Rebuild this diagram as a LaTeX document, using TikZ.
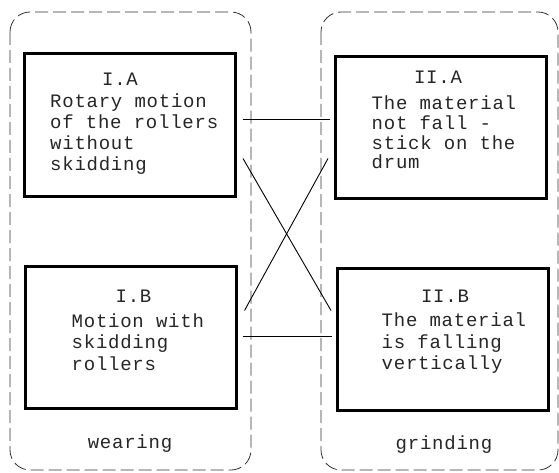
\documentclass[tikz,border=0pt]{standalone}
\usepackage{fontspec}
\newfontfamily\cadfont[LetterSpace=4]{Liberation Mono}
\begin{document}
\begin{tikzpicture}[x=1pt,y=-1pt,
  group/.style={draw=black!80,line width=0.8pt,dash pattern=on 13pt off 5pt,rounded corners=20pt},
  box/.style={draw=black,line width=3pt,minimum width=211pt,minimum height=142pt,inner sep=0pt},
  link/.style={draw=black,line width=0.9pt},
  txt/.style={anchor=base west,inner sep=0pt,text=black!85,font=\cadfont\fontsize{19}{20}\selectfont},
  ttl/.style={anchor=base,inner sep=0pt,text=black!85,font=\cadfont\fontsize{19}{20}\selectfont}]
\useasboundingbox (0,0) rectangle (559,473);
% containers
\draw[group] (10,12) rectangle (251,470);
\draw[group] (321,12) rectangle (558,470);
% boxes
\node[box] (IA) at (129.5,125) {};
\node[box] (IIA) at (441,127.5) {};
\node[box] (IB) at (131,337) {};
\node[box] (IIB) at (442.5,339) {};
% texts
\node[ttl] (tIA) at (120,85.5) {I.A};
\node[txt] (a1) at (50,108) {Rotary motion};
\node[txt] (a2) at (50,129) {of the rollers};
\node[txt] (a3) at (50,150) {without};
\node[txt] (a4) at (50,170.5) {skidding};
\node[ttl] (tIIA) at (438,83.3) {II.A};
\node[txt] (b1) at (371.5,110) {The material};
\node[txt] (b2) at (371.5,130) {not fall -};
\node[txt] (b3) at (371.5,150) {stick on the};
\node[txt] (b4) at (371.5,168.5) {drum};
\node[ttl] (tIB) at (133.5,302.7) {I.B};
\node[txt] (c1) at (71.5,327.3) {Motion with};
\node[txt] (c2) at (71.5,348.5) {skidding};
\node[txt] (c3) at (71.5,370) {rollers};
\node[ttl] (tIIB) at (445,302.3) {II.B};
\node[txt] (d1) at (381.5,326.7) {The material};
\node[txt] (d2) at (381.5,348) {is falling};
\node[txt] (d3) at (381.5,369.5) {vertically};
\node[ttl] (wear) at (130,448) {wearing};
\node[ttl] (grind) at (444,449) {grinding};
% connectors
\draw[link] ([shift={(6,-6)}]IA.east) -- ([shift={(-4,-8.5)}]IIA.west);
\draw[link] ([shift={(6.5,33.5)}]IA.east) -- ([shift={(-4.5,-28.5)}]IIB.west);
\draw[link] ([shift={(6.5,-26.5)}]IB.east) -- ([shift={(-6,31)}]IIA.west);
\draw[link] ([shift={(5,-1)}]IB.east) -- ([shift={(-4,-3)}]IIB.west);
\end{tikzpicture}
\end{document}
